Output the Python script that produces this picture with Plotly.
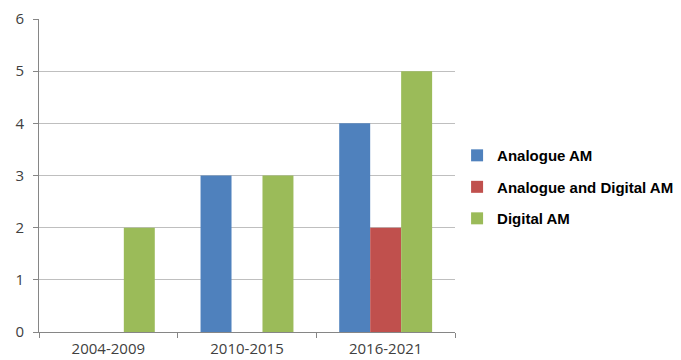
import plotly.graph_objects as go

categories = ["2004-2009", "2010-2015", "2016-2021"]
analogue_am = [None, 3, 4]
analogue_digital_am = [None, None, 2]
digital_am = [2, 3, 5]
y_ticks = [0, 1, 2, 3, 4, 5, 6]

series = [
    ("Analogue AM", analogue_am, "#4F81BD"),
    ("Analogue and Digital AM", analogue_digital_am, "#C0504D"),
    ("Digital AM", digital_am, "#9BBB59"),
]

fig = go.Figure()
for i, (name, vals, color) in enumerate(series):
    fig.add_trace(go.Bar(
        x=categories, y=vals, name=name, marker_color=color,
        marker_line_width=0, legendgroup=f"g{i}",
    ))

axis_font = dict(family="Open Sans, Liberation Sans, sans-serif", size=15, color="#404040")

fig.update_layout(
    width=673, height=352,
    margin=dict(l=31, r=226, t=11, b=28, autoexpand=False),
    paper_bgcolor="white", plot_bgcolor="white",
    barmode="group", bargap=0.33, bargroupgap=0,
    showlegend=True,
    legend=dict(
        x=1.005, xanchor="left", y=0.463, yanchor="middle",
        font=dict(family="Liberation Sans, Arial, sans-serif", size=15, color="#000000", weight="bold"),
        tracegroupgap=9, traceorder="grouped",
        bgcolor="rgba(0,0,0,0)", itemwidth=30,
    ),
    xaxis=dict(
        type="category", showline=True, linecolor="#868686", linewidth=1,
        ticks="outside", tickson="boundaries", ticklen=5, tickcolor="#868686",
        tickfont=axis_font, showgrid=False, zeroline=False, automargin=False,
        ticklabelstandoff=3,
    ),
    yaxis=dict(
        range=[0, 6], tickvals=y_ticks, showline=True, linecolor="#868686", linewidth=1,
        ticks="outside", ticklen=5, tickcolor="#868686",
        tickfont=axis_font, showgrid=True, gridcolor="#BFBFBF", gridwidth=1,
        zeroline=False, automargin=False, ticklabelstandoff=6,
    ),
)

fig.write_html("out.html")
